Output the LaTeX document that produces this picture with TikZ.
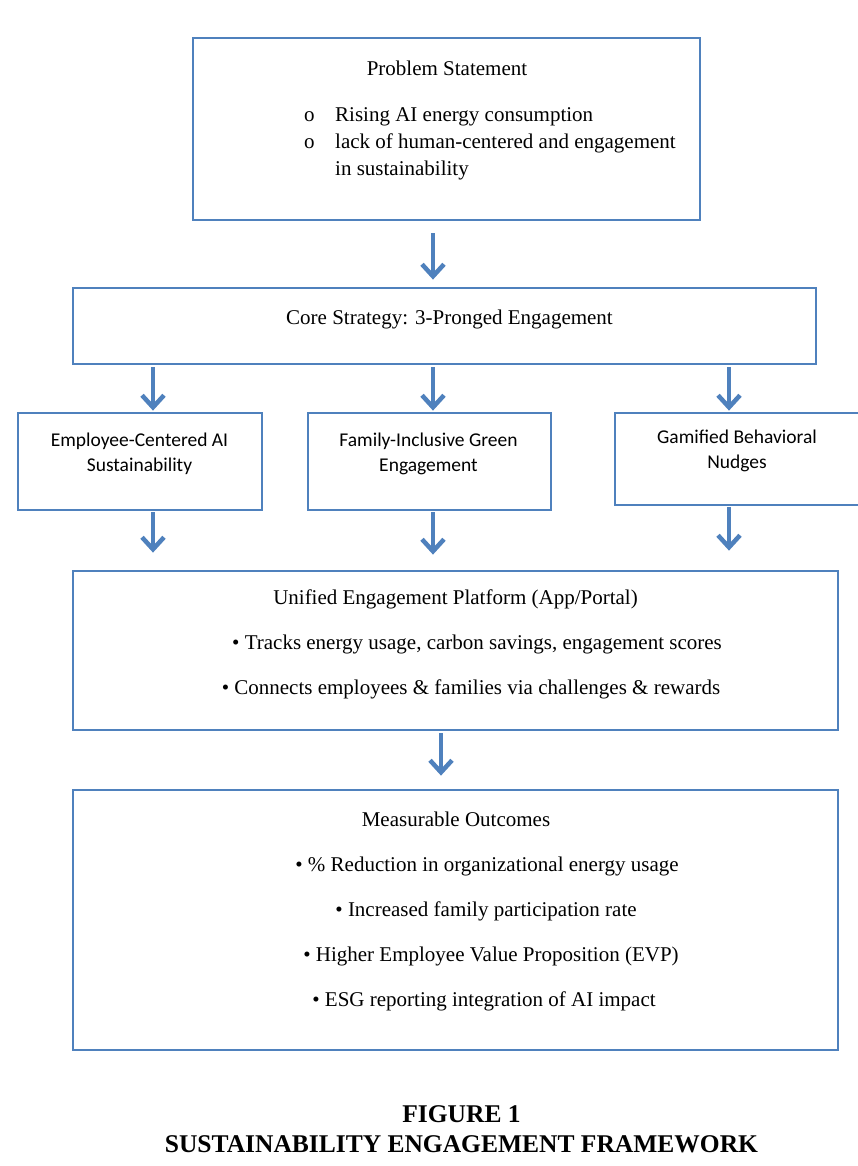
\documentclass[tikz,border=0pt]{standalone}
\usepackage{fontspec}
\setmainfont{Liberation Serif}
\newfontfamily\calfont{Carlito}
\usetikzlibrary{arrows.meta,calc}
\definecolor{bord}{HTML}{4F81BD}
\begin{document}
\begin{tikzpicture}[x=1pt,y=-1pt,
  box/.style={draw=bord,line width=2.8pt,inner sep=0pt,fill=none},
  txt/.style={inner sep=0pt,font=\fontsize{21}{24}\selectfont},
  ctxt/.style={inner sep=0pt,font=\calfont\fontsize{19.5}{22}\selectfont},
  captxt/.style={inner sep=0pt,font=\bfseries\fontsize{25.5}{28}\selectfont},
  arr/.style={draw=bord,line width=4pt,-{Straight Barb[length=12pt,width=22pt,line width=4.5pt]}}]
\useasboundingbox (0,0) rectangle (858,1166);
\fill[white] (0,0) rectangle (858,1166);
% boxes
\node[box,minimum width=507pt,minimum height=182pt] (prob) at (446.5,129) {};
\node[box,minimum width=743pt,minimum height=76pt] (core) at (444.5,326) {};
\node[box,minimum width=244pt,minimum height=97pt] (ba) at (140,461.5) {};
\node[box,minimum width=243pt,minimum height=97pt] (bb) at (429.5,461.5) {};
\node[box,minimum width=247pt,minimum height=92pt] (bc) at (738.5,459) {};
\node[box,minimum width=765pt,minimum height=159pt] (uni) at (455.5,650.5) {};
\node[box,minimum width=765pt,minimum height=260pt] (meas) at (455.5,920) {};
% texts
\node[txt,anchor=base] (probt) at (447,76) {Problem Statement};
\node[txt,anchor=base west] (pbo1) at (304,122) {o};
\node[txt,anchor=base west] (pb1) at (335,122) {Rising AI energy consumption};
\node[txt,anchor=base west] (pbo2) at (304,149) {o};
\node[txt,anchor=base west] (pb2) at (335,149) {lack of human-centered and engagement};
\node[txt,anchor=base west] (pb3) at (335,176) {in sustainability};
\node[txt,anchor=base] (coret) at (449.5,324) {Core Strategy: 3-Pronged Engagement};
\node[ctxt,anchor=base] (ta1) at (139.5,446) {Employee-Centered AI};
\node[ctxt,anchor=base] (ta2) at (139.5,471) {Sustainability};
\node[ctxt,anchor=base] (tb1) at (428.5,446) {Family-Inclusive Green};
\node[ctxt,anchor=base] (tb2) at (428.5,471) {Engagement};
\node[ctxt,anchor=base] (tc1) at (737,443) {Gamified Behavioral};
\node[ctxt,anchor=base] (tc2) at (737,468) {Nudges};
\node[txt,anchor=base] (unit) at (455.5,604) {Unified Engagement Platform (App/Portal)};
\node[txt,anchor=base] (uni1) at (477,649) {\textbullet\ Tracks energy usage, carbon savings, engagement scores};
\node[txt,anchor=base] (uni2) at (471,694) {\textbullet\ Connects employees \& families via challenges \& rewards};
\node[txt,anchor=base] (meast) at (456,826) {Measurable Outcomes};
\node[txt,anchor=base] (m1) at (487,871) {\textbullet\ \% Reduction in organizational energy usage};
\node[txt,anchor=base] (m2) at (486,916) {\textbullet\ Increased family participation rate};
\node[txt,anchor=base] (m3) at (491,961) {\textbullet\ Higher Employee Value Proposition (EVP)};
\node[txt,anchor=base] (m4) at (484,1006) {\textbullet\ ESG reporting integration of AI impact};
\node[captxt,anchor=base] (cap1) at (461.5,1122) {FIGURE 1};
\node[captxt,anchor=base] (cap2) at (461.5,1152) {SUSTAINABILITY ENGAGEMENT FRAMEWORK};
% arrows
\draw[arr] ($(prob.south)+(-13.5,12)$) -- ($(core.north)+(-11.5,-7)$);
\draw[arr] ($(core.south)+(-291.5,2)$) -- ($(ba.north)+(13,-1)$);
\draw[arr] ($(core.south)+(-11.5,2)$) -- ($(bb.north)+(3.5,-1)$);
\draw[arr] ($(core.south)+(284.5,2)$) -- ($(bc.north)+(-9.5,-1)$);
\draw[arr] ($(ba.south)+(13,1)$) -- ($(uni.north)+(-302.5,-17)$);
\draw[arr] ($(bb.south)+(3.5,1)$) -- ($(uni.north)+(-22.5,-15)$);
\draw[arr] ($(bc.south)+(-9.5,1)$) -- ($(uni.north)+(273.5,-19)$);
\draw[arr] ($(uni.south)+(-14.5,2)$) -- ($(meas.north)+(-14.5,-13)$);
\end{tikzpicture}
\end{document}
